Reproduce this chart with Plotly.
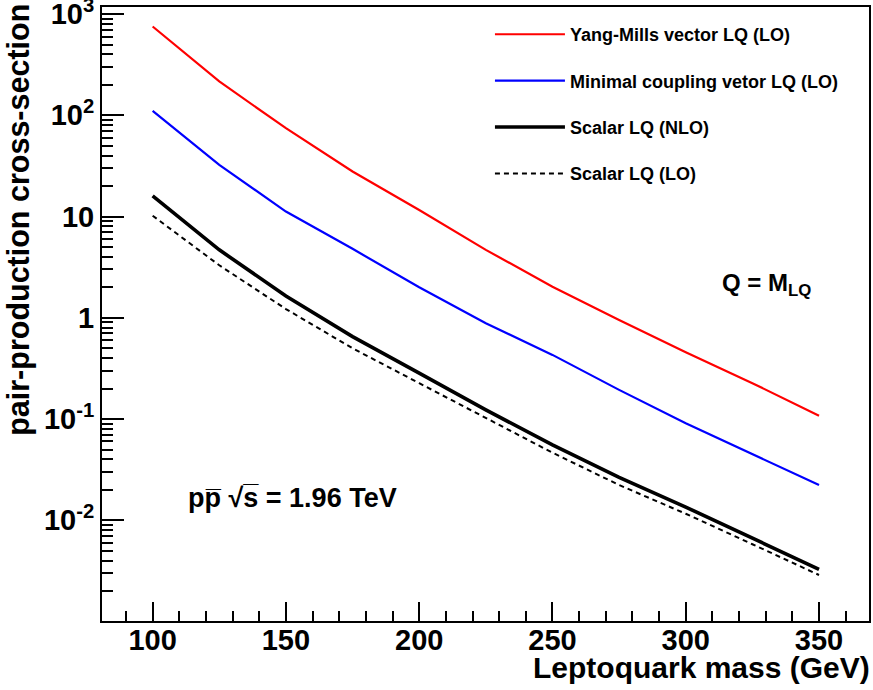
import plotly.graph_objects as go

# ---- data ----
mass = [100, 125, 150, 175, 200, 225, 250, 275, 300, 325, 350]
yang_mills_lo = [754, 216, 74.6, 27.9, 11.6, 4.69, 2.03, 0.953, 0.457, 0.226, 0.108]
minimal_lo = [110.7, 32.4, 11.2, 4.8, 2.0, 0.885, 0.43, 0.194, 0.0907, 0.0449, 0.0223]
scalar_nlo = [16.0, 4.69, 1.64, 0.652, 0.284, 0.123, 0.0555, 0.0265, 0.0135, 0.00664, 0.00328]
scalar_lo = [10.2, 3.3, 1.22, 0.50, 0.226, 0.102, 0.0465, 0.0223, 0.0116, 0.0058, 0.00288]

series_names = ["Yang-Mills vector LQ (LO)", "Minimal coupling vetor LQ (LO)",
                "Scalar LQ (NLO)", "Scalar LQ (LO)"]

y_tickvals = [0.01, 0.1, 1, 10, 100, 1000]
y_ticktext = ["10<sup>-2</sup>", "10<sup>-1</sup>", "1", "10", "10<sup>2</sup>", "10<sup>3</sup>"]
x_tickvals = [100, 150, 200, 250, 300, 350]

FONT = "Liberation Sans, Arial, Helvetica, sans-serif"

fig = go.Figure()
styles = [
    dict(color="#ff0000", width=2.2, dash="solid"),
    dict(color="#0000ff", width=2.2, dash="solid"),
    dict(color="#000000", width=3.6, dash="solid"),
    dict(color="#000000", width=2.0, dash="5px,4px"),
]
for name, ys, st in zip(series_names, [yang_mills_lo, minimal_lo, scalar_nlo, scalar_lo], styles):
    fig.add_trace(go.Scatter(x=mass, y=ys, mode="lines", name=name, legendgroup=name,
                             line=st))

fig.update_layout(
    width=873, height=690,
    margin=dict(l=102, r=4, t=7, b=69, autoexpand=False),
    paper_bgcolor="white", plot_bgcolor="white",
    font=dict(family=FONT, color="black"),
    showlegend=True,
    legend=dict(x=0.5058, y=0.9853, xanchor="left", yanchor="top",
                bgcolor="rgba(0,0,0,0)", borderwidth=0,
                font=dict(family=FONT, size=18, weight="bold"),
                traceorder="grouped", tracegroupgap=20, itemwidth=70),
)

fig.update_xaxes(
    range=[81, 368.75], showgrid=False, zeroline=False, automargin=False,
    showline=True, linecolor="black", linewidth=2, mirror=True,
    tickmode="array", tickvals=x_tickvals,
    ticks="inside", ticklen=19, tickwidth=1.5, tickcolor="black",
    tickfont=dict(family=FONT, size=29, weight="bold"),
    ticklabeloverflow="allow", ticklabelstandoff=-8,
    minor=dict(dtick=10, tick0=0, ticks="inside", ticklen=10, tickwidth=1.5,
               tickcolor="black", showgrid=False),
)
fig.update_yaxes(
    type="log", range=[-2.995, 3.07], showgrid=False, zeroline=False, automargin=False,
    showline=True, linecolor="black", linewidth=2, mirror=True,
    tickmode="array", tickvals=y_tickvals, ticktext=y_ticktext,
    ticks="inside", ticklen=22, tickwidth=1.5, tickcolor="black",
    tickfont=dict(family=FONT, size=29, weight="bold"),
    ticklabeloverflow="allow",
    minor=dict(dtick="D1", ticks="inside", ticklen=11, tickwidth=1.5,
               tickcolor="black", showgrid=False),
)

annotations = [
    dict(text="pair-production cross-section", textangle=-90,
         xref="paper", yref="paper", x=-0.109, y=0.654,
         xanchor="center", yanchor="middle", showarrow=False,
         font=dict(family=FONT, size=30.5, weight="bold")),
    dict(text="Leptoquark mass (GeV)",
         xref="paper", yref="paper", x=1.0, y=-0.0765, xshift=3,
         xanchor="right", yanchor="middle", showarrow=False,
         font=dict(family=FONT, size=30, weight="bold")),
    dict(text="pp\u0305 \u221as\u0305 = 1.96 TeV",
         xref="paper", yref="paper", x=0.2484, y=0.2003,
         xanchor="center", yanchor="middle", showarrow=False,
         font=dict(family=FONT, size=27, weight="bold")),
    dict(text="Q = M<sub>LQ</sub>",
         xref="paper", yref="paper", x=0.8057, y=0.548,
         xanchor="left", yanchor="middle", showarrow=False,
         font=dict(family=FONT, size=24, weight="bold")),
]
fig.update_layout(annotations=annotations)

fig.write_html(
    "out.html",
    config={"displayModeBar": False},
    post_script="document.body.style.margin='0';document.body.style.overflow='hidden';",
)
